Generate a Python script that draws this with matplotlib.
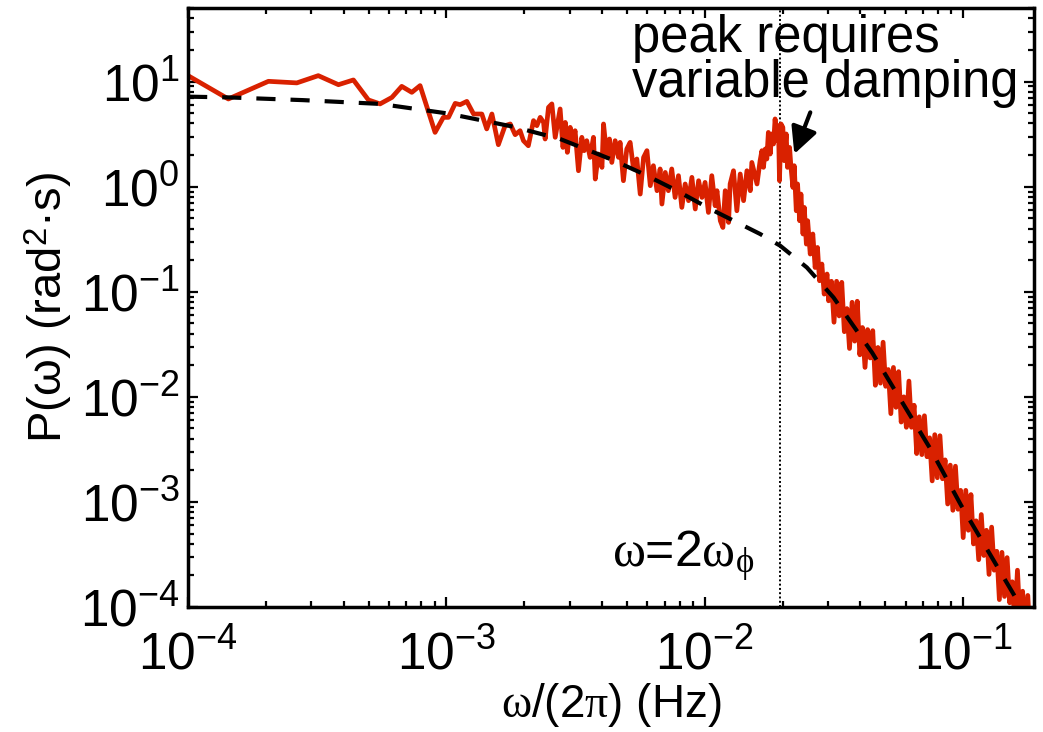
import matplotlib
matplotlib.use("Agg")
import matplotlib.pyplot as plt
import numpy as np
from matplotlib.ticker import FuncFormatter, LogLocator, NullFormatter

plt.rcParams["font.family"] = ["Liberation Sans", "DejaVu Sans"]
plt.rcParams["mathtext.fontset"] = "custom"
plt.rcParams["mathtext.rm"] = "Liberation Serif"
plt.rcParams["mathtext.sf"] = "Liberation Sans"
plt.rcParams["mathtext.it"] = "Liberation Serif:italic"
plt.rcParams["mathtext.default"] = "rm"

log_freq = [
    -4.000, -3.844, -3.689, -3.579, -3.496, -3.418, -3.360, -3.302, -3.257, -3.211,
    -3.173, -3.134, -3.102, -3.044, -3.012, -2.992, -2.966, -2.947, -2.921, -2.895,
    -2.863, -2.844, -2.824, -2.799, -2.773, -2.753, -2.734, -2.715, -2.702, -2.683,
    -2.663, -2.650, -2.637, -2.624, -2.618, -2.605, -2.592, -2.579, -2.560,
    -2.549, -2.540, -2.532, -2.521, -2.511, -2.502, -2.489, -2.476, -2.467, -2.457,
    -2.444, -2.431, -2.424, -2.412, -2.398, -2.392, -2.379, -2.369, -2.360, -2.347,
    -2.334, -2.328, -2.315, -2.302, -2.289, -2.276, -2.263, -2.250, -2.237, -2.224,
    -2.211, -2.199, -2.185, -2.173, -2.166, -2.153, -2.141, -2.128, -2.115, -2.102,
    -2.089, -2.076, -2.063, -2.050, -2.037, -2.024, -2.011, -1.999, -1.986, -1.973,
    -1.960, -1.953, -1.940, -1.930, -1.921, -1.908, -1.902, -1.889, -1.876, -1.863,
    -1.850, -1.837, -1.824, -1.818, -1.798, -1.786,
    -1.779, -1.773, -1.766, -1.760, -1.754, -1.747, -1.741, -1.734, -1.728, -1.721,
    -1.715, -1.711, -1.705, -1.698, -1.693, -1.685, -1.680, -1.672, -1.667, -1.659,
    -1.654, -1.646, -1.641, -1.633, -1.628, -1.620, -1.615, -1.607, -1.602, -1.592,
    -1.582, -1.573, -1.564, -1.556, -1.547, -1.538, -1.527, -1.521,
    -1.51, -1.50, -1.49, -1.48, -1.47, -1.46, -1.45, -1.44, -1.43, -1.42,
    -1.41, -1.40, -1.39, -1.38, -1.37, -1.36, -1.35, -1.34, -1.33, -1.32,
    -1.31, -1.30, -1.29, -1.28, -1.27, -1.26, -1.25, -1.24, -1.23, -1.22,
    -1.21, -1.20, -1.19, -1.18, -1.17, -1.16, -1.15, -1.14, -1.13, -1.12,
    -1.11, -1.10, -1.09, -1.08, -1.07, -1.06, -1.05, -1.04, -1.03, -1.02,
    -1.01, -1.00, -0.99, -0.98, -0.97, -0.96, -0.95, -0.94, -0.93, -0.92,
    -0.91, -0.90, -0.89, -0.88, -0.87, -0.86, -0.85, -0.84, -0.83, -0.82,
    -0.81, -0.80, -0.79, -0.78, -0.77, -0.76, -0.75, -0.74, -0.73, -0.72,
]
log_power = [
    1.057, 0.835, 1.003, 0.988, 1.057, 0.971, 1.016, 0.826, 0.788, 0.850,
    0.955, 0.898, 0.962, 0.517, 0.660, 0.660, 0.793, 0.781, 0.812, 0.692,
    0.692, 0.550, 0.692, 0.400, 0.581, 0.597, 0.495, 0.533, 0.438, 0.390,
    0.629, 0.581, 0.660, 0.612, 0.454, 0.755, 0.788, 0.470, 0.740,
    0.374, 0.612, 0.327, 0.565, 0.438, 0.533, 0.152, 0.470, 0.343, 0.438,
    0.279, 0.470, 0.073, 0.311, 0.184, 0.597, 0.279, 0.454, 0.231, 0.438,
    0.279, 0.422, 0.057, 0.359, 0.422, 0.169, 0.264, -0.070, 0.279, 0.343,
    0.010, 0.200, -0.038, 0.169, -0.165, 0.136, -0.038, 0.169, -0.102, 0.105,
    -0.197, 0.026, -0.133, 0.089, -0.212, 0.057, -0.102, 0.041, -0.245, 0.105,
    -0.181, -0.038, -0.324, -0.388, -0.038, -0.340, 0.026, 0.152, -0.229, 0.121,
    -0.133, 0.152, -0.038, 0.231, 0.026, 0.248,
    0.343, 0.184, 0.359, 0.264, 0.517, 0.311, 0.502, 0.407, 0.645, 0.438,
    0.581, 0.057, 0.597, 0.565, 0.248, 0.502, 0.184, 0.374, 0.200, -0.007,
    0.200, -0.229, 0.026, -0.324, -0.070, -0.450, -0.197, -0.546, -0.324, -0.641,
    -0.450, -0.769, -0.578, -0.895, -0.736, -1.022, -0.831, -1.086,
    -0.90, -1.29, -0.90, -1.23, -0.91, -1.38, -1.16, -1.54, -1.10, -1.47,
    -1.09, -1.60, -1.34, -1.72, -1.36, -1.63, -1.37, -1.89, -1.53, -1.87,
    -1.48, -1.90, -1.74, -2.16, -1.72, -2.10, -1.76, -2.24, -2.00, -2.29,
    -1.85, -2.29, -2.08, -2.54, -2.19, -2.55, -2.18, -2.57, -2.39, -2.80,
    -2.36, -2.77, -2.37, -2.78, -2.60, -3.02, -2.65, -3.08, -2.66, -3.07,
    -2.89, -3.34, -2.89, -3.27, -2.93, -3.40, -3.18, -3.55, -3.12, -3.51,
    -3.27, -3.69, -3.24, -3.65, -3.47, -3.93, -3.48, -3.90, -3.53, -3.96,
    -3.76, -4.14, -3.65, -4.15, -3.85, -4.34, -3.89, -4.35, -4.06, -4.48,
]

# model curve (dashed)
model_log_freq = [-4.000, -3.844, -3.555, -3.257, -2.998, -2.741, -2.560, -2.366,
                  -2.237, -2.108, -1.979, -1.786, -1.708, -1.605, -1.502, -1.352,
                  -1.127, -1.008, -0.792, -0.771]
model_log_power = [0.857, 0.850, 0.824, 0.788, 0.698, 0.571, 0.454, 0.264,
                   0.121, -0.038, -0.212, -0.450, -0.562, -0.769, -1.054, -1.581,
                   -2.495, -3.033, -3.933, -4.020]

peak_freq = 0.0196  # omega = 2 omega_phi

freq = 10 ** np.array(log_freq)
power = 10 ** np.array(log_power)
model_freq = 10 ** np.array(model_log_freq)
model_power = 10 ** np.array(model_log_power)

fig = plt.figure(figsize=(10.43, 7.32), dpi=100)
ax = fig.add_axes([0.1803, 0.1708, 0.8111, 0.818])

ax.plot(freq, power, color="#d92100", lw=3.4, zorder=2)
ax.plot(model_freq, model_power, color="k", lw=3, ls=(0, (4.6, 3.6)), zorder=3)
ax.axvline(peak_freq, color="k", lw=1.4, ls=(0, (1, 1.2)), zorder=1)

ax.set_xscale("log")
ax.set_yscale("log")
ax.set_xlim(1e-4, 0.188)
ax.set_ylim(1e-4, 50)

fmt = FuncFormatter(lambda v, pos: r"$\mathsf{10^{%d}}$" % int(round(np.log10(v))))
for axis in (ax.xaxis, ax.yaxis):
    axis.set_major_locator(LogLocator(base=10, numticks=20))
    axis.set_minor_locator(LogLocator(base=10, subs=np.arange(2, 10), numticks=20))
    axis.set_major_formatter(fmt)
    axis.set_minor_formatter(NullFormatter())

ax.tick_params(which="both", direction="in", top=True, right=True, width=1.6)
ax.tick_params(which="major", length=7.5, labelsize=37)
ax.tick_params(which="minor", length=4.3)
ax.tick_params(axis="x", which="major", pad=17)
ax.tick_params(axis="y", which="major", pad=6)
for sp in ax.spines.values():
    sp.set_linewidth(2.5)

ax.set_xlabel(r"$\omega$/(2$\pi$) (Hz)", fontsize=33, labelpad=0)
ax.set_ylabel(r"P(ω) (rad$^\mathsf{2}$·s)", fontsize=34, labelpad=4)

ax.text(0.525, 0.99, "peak requires\nvariable damping", transform=ax.transAxes,
        ha="left", va="top", fontsize=36.5, linespacing=0.9)
ax.annotate("", xy=(0.0222, 2.05), xytext=(0.0256, 5.1),
            arrowprops=dict(arrowstyle="-|>,head_length=0.8,head_width=0.4",
                            color="k", lw=3, shrinkA=0, shrinkB=0, mutation_scale=20))
ax.text(0.501, 0.067, r"$\omega$=2$\omega_{\phi}$", transform=ax.transAxes,
        ha="left", va="baseline", fontsize=36)

fig.savefig("out.png", dpi=100)
